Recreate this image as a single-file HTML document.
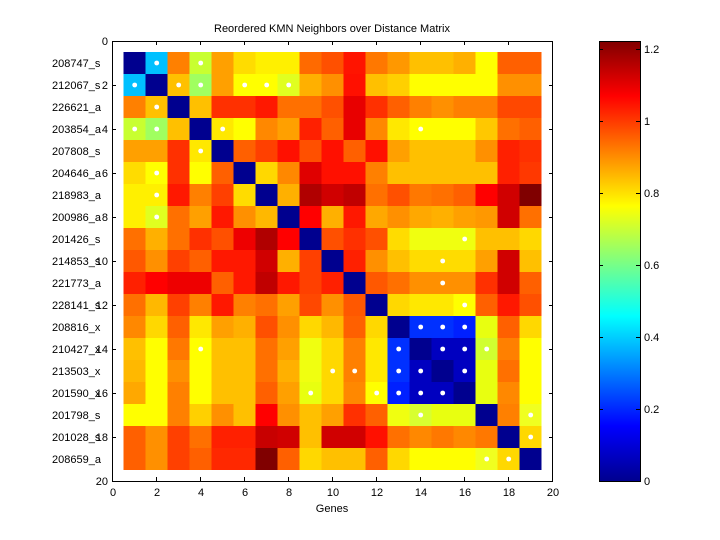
<!DOCTYPE html>
<html><head><meta charset="utf-8"><style>
html,body{margin:0;padding:0;background:#fff;}
svg{display:block;font-family:"Liberation Sans",sans-serif;font-size:11px;}
</style></head><body>
<svg width="720" height="540" viewBox="0 0 720 540">
<defs>
<linearGradient id="jet" x1="0" y1="1" x2="0" y2="0">
<stop offset="0" stop-color="#00008f"/>
<stop offset="0.125" stop-color="#0000ff"/>
<stop offset="0.375" stop-color="#00ffff"/>
<stop offset="0.625" stop-color="#ffff00"/>
<stop offset="0.875" stop-color="#ff0000"/>
<stop offset="1" stop-color="#800000"/>
</linearGradient>
</defs>
<rect width="720" height="540" fill="#fff"/>
<svg x="112.7" y="41" width="440" height="440" viewBox="0 0 20 20" shape-rendering="crispEdges">
<g transform="translate(0.5,0.5)">
<g transform="translate(0,0)"><rect x="0" width="1" height="1" fill="#00008f"/><rect x="1" width="1" height="1" fill="#00c0ff"/><rect x="2" width="1" height="1" fill="#ff8000"/><rect x="3" width="1" height="1" fill="#c8ff30"/><rect x="4" width="1" height="1" fill="#ffa000"/><rect x="5" width="1" height="1" fill="#ffdc00"/><rect x="6" width="1" height="1" fill="#fff000"/><rect x="7" width="1" height="1" fill="#fff000"/><rect x="8" width="1" height="1" fill="#ff6a00"/><rect x="9" width="1" height="1" fill="#ff5000"/><rect x="10" width="1" height="1" fill="#ff1400"/><rect x="11" width="1" height="1" fill="#ff7800"/><rect x="12" width="1" height="1" fill="#ff9800"/><rect x="13" width="1" height="1" fill="#ffc000"/><rect x="14" width="1" height="1" fill="#ffc000"/><rect x="15" width="1" height="1" fill="#ffb000"/><rect x="16" width="1" height="1" fill="#ffff00"/><rect x="17" width="1" height="1" fill="#ff6000"/><rect x="18" width="1" height="1" fill="#ff6000"/></g>
<g transform="translate(0,1)"><rect x="0" width="1" height="1" fill="#00c0ff"/><rect x="1" width="1" height="1" fill="#00008f"/><rect x="2" width="1" height="1" fill="#ffc000"/><rect x="3" width="1" height="1" fill="#a0ff60"/><rect x="4" width="1" height="1" fill="#ffa000"/><rect x="5" width="1" height="1" fill="#ffff00"/><rect x="6" width="1" height="1" fill="#ffff00"/><rect x="7" width="1" height="1" fill="#e0ff20"/><rect x="8" width="1" height="1" fill="#ffb000"/><rect x="9" width="1" height="1" fill="#ff9000"/><rect x="10" width="1" height="1" fill="#ff1000"/><rect x="11" width="1" height="1" fill="#ffc000"/><rect x="12" width="1" height="1" fill="#ffd000"/><rect x="13" width="1" height="1" fill="#ffff00"/><rect x="14" width="1" height="1" fill="#ffff00"/><rect x="15" width="1" height="1" fill="#ffff00"/><rect x="16" width="1" height="1" fill="#ffff00"/><rect x="17" width="1" height="1" fill="#ff9000"/><rect x="18" width="1" height="1" fill="#ff9000"/></g>
<g transform="translate(0,2)"><rect x="0" width="1" height="1" fill="#ff8000"/><rect x="1" width="1" height="1" fill="#ffc000"/><rect x="2" width="1" height="1" fill="#00008f"/><rect x="3" width="1" height="1" fill="#ffc000"/><rect x="4" width="1" height="1" fill="#ff3000"/><rect x="5" width="1" height="1" fill="#ff3000"/><rect x="6" width="1" height="1" fill="#ff1800"/><rect x="7" width="1" height="1" fill="#ff7000"/><rect x="8" width="1" height="1" fill="#ff7000"/><rect x="9" width="1" height="1" fill="#ff5000"/><rect x="10" width="1" height="1" fill="#e80000"/><rect x="11" width="1" height="1" fill="#ff3000"/><rect x="12" width="1" height="1" fill="#ff6000"/><rect x="13" width="1" height="1" fill="#ff8000"/><rect x="14" width="1" height="1" fill="#ff9000"/><rect x="15" width="1" height="1" fill="#ff8000"/><rect x="16" width="1" height="1" fill="#ff8000"/><rect x="17" width="1" height="1" fill="#ff4800"/><rect x="18" width="1" height="1" fill="#ff4800"/></g>
<g transform="translate(0,3)"><rect x="0" width="1" height="1" fill="#c8ff30"/><rect x="1" width="1" height="1" fill="#a0ff60"/><rect x="2" width="1" height="1" fill="#ffc000"/><rect x="3" width="1" height="1" fill="#00008f"/><rect x="4" width="1" height="1" fill="#ffe800"/><rect x="5" width="1" height="1" fill="#ffff00"/><rect x="6" width="1" height="1" fill="#ff8800"/><rect x="7" width="1" height="1" fill="#ffa000"/><rect x="8" width="1" height="1" fill="#ff2000"/><rect x="9" width="1" height="1" fill="#ff6000"/><rect x="10" width="1" height="1" fill="#e80000"/><rect x="11" width="1" height="1" fill="#ff8800"/><rect x="12" width="1" height="1" fill="#ffe800"/><rect x="13" width="1" height="1" fill="#ffff00"/><rect x="14" width="1" height="1" fill="#ffff00"/><rect x="15" width="1" height="1" fill="#ffff00"/><rect x="16" width="1" height="1" fill="#ffc800"/><rect x="17" width="1" height="1" fill="#ff7000"/><rect x="18" width="1" height="1" fill="#ff6000"/></g>
<g transform="translate(0,4)"><rect x="0" width="1" height="1" fill="#ffa000"/><rect x="1" width="1" height="1" fill="#ffa000"/><rect x="2" width="1" height="1" fill="#ff3000"/><rect x="3" width="1" height="1" fill="#ffe800"/><rect x="4" width="1" height="1" fill="#00008f"/><rect x="5" width="1" height="1" fill="#ff6000"/><rect x="6" width="1" height="1" fill="#ff4000"/><rect x="7" width="1" height="1" fill="#ff1000"/><rect x="8" width="1" height="1" fill="#ff5000"/><rect x="9" width="1" height="1" fill="#ff1000"/><rect x="10" width="1" height="1" fill="#ff6000"/><rect x="11" width="1" height="1" fill="#ff1000"/><rect x="12" width="1" height="1" fill="#ffa000"/><rect x="13" width="1" height="1" fill="#ffc000"/><rect x="14" width="1" height="1" fill="#ffc000"/><rect x="15" width="1" height="1" fill="#ffc000"/><rect x="16" width="1" height="1" fill="#ff9000"/><rect x="17" width="1" height="1" fill="#ff2000"/><rect x="18" width="1" height="1" fill="#ff3000"/></g>
<g transform="translate(0,5)"><rect x="0" width="1" height="1" fill="#ffdc00"/><rect x="1" width="1" height="1" fill="#ffff00"/><rect x="2" width="1" height="1" fill="#ff3000"/><rect x="3" width="1" height="1" fill="#ffff00"/><rect x="4" width="1" height="1" fill="#ff6000"/><rect x="5" width="1" height="1" fill="#00008f"/><rect x="6" width="1" height="1" fill="#ffd800"/><rect x="7" width="1" height="1" fill="#ff8800"/><rect x="8" width="1" height="1" fill="#e00000"/><rect x="9" width="1" height="1" fill="#ff1000"/><rect x="10" width="1" height="1" fill="#ff1000"/><rect x="11" width="1" height="1" fill="#ff8000"/><rect x="12" width="1" height="1" fill="#ffc000"/><rect x="13" width="1" height="1" fill="#ffc000"/><rect x="14" width="1" height="1" fill="#ffc000"/><rect x="15" width="1" height="1" fill="#ffc000"/><rect x="16" width="1" height="1" fill="#ffc000"/><rect x="17" width="1" height="1" fill="#ff2000"/><rect x="18" width="1" height="1" fill="#ff3800"/></g>
<g transform="translate(0,6)"><rect x="0" width="1" height="1" fill="#fff000"/><rect x="1" width="1" height="1" fill="#fff000"/><rect x="2" width="1" height="1" fill="#ff1800"/><rect x="3" width="1" height="1" fill="#ff8000"/><rect x="4" width="1" height="1" fill="#ff4000"/><rect x="5" width="1" height="1" fill="#ffdc00"/><rect x="6" width="1" height="1" fill="#00008f"/><rect x="7" width="1" height="1" fill="#ffb000"/><rect x="8" width="1" height="1" fill="#b00000"/><rect x="9" width="1" height="1" fill="#d00000"/><rect x="10" width="1" height="1" fill="#c00000"/><rect x="11" width="1" height="1" fill="#ff7000"/><rect x="12" width="1" height="1" fill="#ff5000"/><rect x="13" width="1" height="1" fill="#ff7800"/><rect x="14" width="1" height="1" fill="#ff7000"/><rect x="15" width="1" height="1" fill="#ff6000"/><rect x="16" width="1" height="1" fill="#ff0000"/><rect x="17" width="1" height="1" fill="#d00000"/><rect x="18" width="1" height="1" fill="#800000"/></g>
<g transform="translate(0,7)"><rect x="0" width="1" height="1" fill="#fff000"/><rect x="1" width="1" height="1" fill="#e0ff20"/><rect x="2" width="1" height="1" fill="#ff7000"/><rect x="3" width="1" height="1" fill="#ffa000"/><rect x="4" width="1" height="1" fill="#ff1800"/><rect x="5" width="1" height="1" fill="#ff9000"/><rect x="6" width="1" height="1" fill="#ffb800"/><rect x="7" width="1" height="1" fill="#00008f"/><rect x="8" width="1" height="1" fill="#ff0000"/><rect x="9" width="1" height="1" fill="#ffb000"/><rect x="10" width="1" height="1" fill="#ff1800"/><rect x="11" width="1" height="1" fill="#ffa800"/><rect x="12" width="1" height="1" fill="#ff9000"/><rect x="13" width="1" height="1" fill="#ffa800"/><rect x="14" width="1" height="1" fill="#ffb000"/><rect x="15" width="1" height="1" fill="#ffa000"/><rect x="16" width="1" height="1" fill="#ff9800"/><rect x="17" width="1" height="1" fill="#d00000"/><rect x="18" width="1" height="1" fill="#ff7000"/></g>
<g transform="translate(0,8)"><rect x="0" width="1" height="1" fill="#ff7000"/><rect x="1" width="1" height="1" fill="#ffb000"/><rect x="2" width="1" height="1" fill="#ff7000"/><rect x="3" width="1" height="1" fill="#ff3000"/><rect x="4" width="1" height="1" fill="#ff5000"/><rect x="5" width="1" height="1" fill="#ee0000"/><rect x="6" width="1" height="1" fill="#b00000"/><rect x="7" width="1" height="1" fill="#ff0000"/><rect x="8" width="1" height="1" fill="#00008f"/><rect x="9" width="1" height="1" fill="#ff5000"/><rect x="10" width="1" height="1" fill="#ff3000"/><rect x="11" width="1" height="1" fill="#ff5000"/><rect x="12" width="1" height="1" fill="#ffdc00"/><rect x="13" width="1" height="1" fill="#f0ff10"/><rect x="14" width="1" height="1" fill="#f0ff10"/><rect x="15" width="1" height="1" fill="#f0ff10"/><rect x="16" width="1" height="1" fill="#ffc000"/><rect x="17" width="1" height="1" fill="#ffc000"/><rect x="18" width="1" height="1" fill="#ffd800"/></g>
<g transform="translate(0,9)"><rect x="0" width="1" height="1" fill="#ff5800"/><rect x="1" width="1" height="1" fill="#ff9000"/><rect x="2" width="1" height="1" fill="#ff4000"/><rect x="3" width="1" height="1" fill="#ff6000"/><rect x="4" width="1" height="1" fill="#ff1800"/><rect x="5" width="1" height="1" fill="#ff1800"/><rect x="6" width="1" height="1" fill="#d00000"/><rect x="7" width="1" height="1" fill="#ffb000"/><rect x="8" width="1" height="1" fill="#ff4000"/><rect x="9" width="1" height="1" fill="#00008f"/><rect x="10" width="1" height="1" fill="#ff2000"/><rect x="11" width="1" height="1" fill="#ff9000"/><rect x="12" width="1" height="1" fill="#ffc000"/><rect x="13" width="1" height="1" fill="#ffdc00"/><rect x="14" width="1" height="1" fill="#ffdc00"/><rect x="15" width="1" height="1" fill="#ffdc00"/><rect x="16" width="1" height="1" fill="#ffa000"/><rect x="17" width="1" height="1" fill="#d00000"/><rect x="18" width="1" height="1" fill="#ffc000"/></g>
<g transform="translate(0,10)"><rect x="0" width="1" height="1" fill="#ff2000"/><rect x="1" width="1" height="1" fill="#ff0000"/><rect x="2" width="1" height="1" fill="#ee0000"/><rect x="3" width="1" height="1" fill="#ee0000"/><rect x="4" width="1" height="1" fill="#ff6000"/><rect x="5" width="1" height="1" fill="#ff1800"/><rect x="6" width="1" height="1" fill="#c00000"/><rect x="7" width="1" height="1" fill="#ff1800"/><rect x="8" width="1" height="1" fill="#ff4000"/><rect x="9" width="1" height="1" fill="#ff2000"/><rect x="10" width="1" height="1" fill="#00008f"/><rect x="11" width="1" height="1" fill="#ff5800"/><rect x="12" width="1" height="1" fill="#ff7000"/><rect x="13" width="1" height="1" fill="#ff9000"/><rect x="14" width="1" height="1" fill="#ff9000"/><rect x="15" width="1" height="1" fill="#ff9000"/><rect x="16" width="1" height="1" fill="#ff3000"/><rect x="17" width="1" height="1" fill="#d00000"/><rect x="18" width="1" height="1" fill="#ff6000"/></g>
<g transform="translate(0,11)"><rect x="0" width="1" height="1" fill="#ff7000"/><rect x="1" width="1" height="1" fill="#ffb800"/><rect x="2" width="1" height="1" fill="#ff4000"/><rect x="3" width="1" height="1" fill="#ff8000"/><rect x="4" width="1" height="1" fill="#ff1800"/><rect x="5" width="1" height="1" fill="#ff8000"/><rect x="6" width="1" height="1" fill="#ff7000"/><rect x="7" width="1" height="1" fill="#ffa000"/><rect x="8" width="1" height="1" fill="#ff4800"/><rect x="9" width="1" height="1" fill="#ff9000"/><rect x="10" width="1" height="1" fill="#ff5800"/><rect x="11" width="1" height="1" fill="#00008f"/><rect x="12" width="1" height="1" fill="#ffd800"/><rect x="13" width="1" height="1" fill="#ffe800"/><rect x="14" width="1" height="1" fill="#ffe800"/><rect x="15" width="1" height="1" fill="#ffff00"/><rect x="16" width="1" height="1" fill="#ff6000"/><rect x="17" width="1" height="1" fill="#ff1800"/><rect x="18" width="1" height="1" fill="#ff5000"/></g>
<g transform="translate(0,12)"><rect x="0" width="1" height="1" fill="#ff8800"/><rect x="1" width="1" height="1" fill="#ffd800"/><rect x="2" width="1" height="1" fill="#ff6000"/><rect x="3" width="1" height="1" fill="#ffe800"/><rect x="4" width="1" height="1" fill="#ffa000"/><rect x="5" width="1" height="1" fill="#ffb000"/><rect x="6" width="1" height="1" fill="#ff5000"/><rect x="7" width="1" height="1" fill="#ff9000"/><rect x="8" width="1" height="1" fill="#ffd800"/><rect x="9" width="1" height="1" fill="#ffb800"/><rect x="10" width="1" height="1" fill="#ff6000"/><rect x="11" width="1" height="1" fill="#ffd800"/><rect x="12" width="1" height="1" fill="#00008f"/><rect x="13" width="1" height="1" fill="#0030ff"/><rect x="14" width="1" height="1" fill="#0030ff"/><rect x="15" width="1" height="1" fill="#0020ff"/><rect x="16" width="1" height="1" fill="#e8ff10"/><rect x="17" width="1" height="1" fill="#ff6000"/><rect x="18" width="1" height="1" fill="#ffd800"/></g>
<g transform="translate(0,13)"><rect x="0" width="1" height="1" fill="#ffc000"/><rect x="1" width="1" height="1" fill="#ffff00"/><rect x="2" width="1" height="1" fill="#ff7800"/><rect x="3" width="1" height="1" fill="#ffff00"/><rect x="4" width="1" height="1" fill="#ffc000"/><rect x="5" width="1" height="1" fill="#ffc000"/><rect x="6" width="1" height="1" fill="#ff7000"/><rect x="7" width="1" height="1" fill="#ffa000"/><rect x="8" width="1" height="1" fill="#f0ff10"/><rect x="9" width="1" height="1" fill="#ffd800"/><rect x="10" width="1" height="1" fill="#ff8000"/><rect x="11" width="1" height="1" fill="#ffe800"/><rect x="12" width="1" height="1" fill="#0030ff"/><rect x="13" width="1" height="1" fill="#00008f"/><rect x="14" width="1" height="1" fill="#0000c0"/><rect x="15" width="1" height="1" fill="#0000c0"/><rect x="16" width="1" height="1" fill="#d0ff30"/><rect x="17" width="1" height="1" fill="#ff8000"/><rect x="18" width="1" height="1" fill="#ffff00"/></g>
<g transform="translate(0,14)"><rect x="0" width="1" height="1" fill="#ffb800"/><rect x="1" width="1" height="1" fill="#ffff00"/><rect x="2" width="1" height="1" fill="#ff9000"/><rect x="3" width="1" height="1" fill="#ffff00"/><rect x="4" width="1" height="1" fill="#ffc000"/><rect x="5" width="1" height="1" fill="#ffc000"/><rect x="6" width="1" height="1" fill="#ff7000"/><rect x="7" width="1" height="1" fill="#ffb000"/><rect x="8" width="1" height="1" fill="#f0ff10"/><rect x="9" width="1" height="1" fill="#ffd800"/><rect x="10" width="1" height="1" fill="#ff8000"/><rect x="11" width="1" height="1" fill="#ffe800"/><rect x="12" width="1" height="1" fill="#0030ff"/><rect x="13" width="1" height="1" fill="#0000c0"/><rect x="14" width="1" height="1" fill="#00008f"/><rect x="15" width="1" height="1" fill="#0000c0"/><rect x="16" width="1" height="1" fill="#e8ff10"/><rect x="17" width="1" height="1" fill="#ff7000"/><rect x="18" width="1" height="1" fill="#ffff00"/></g>
<g transform="translate(0,15)"><rect x="0" width="1" height="1" fill="#ffa800"/><rect x="1" width="1" height="1" fill="#ffff00"/><rect x="2" width="1" height="1" fill="#ff8000"/><rect x="3" width="1" height="1" fill="#ffff00"/><rect x="4" width="1" height="1" fill="#ffc000"/><rect x="5" width="1" height="1" fill="#ffc000"/><rect x="6" width="1" height="1" fill="#ff6000"/><rect x="7" width="1" height="1" fill="#ffa000"/><rect x="8" width="1" height="1" fill="#e8ff10"/><rect x="9" width="1" height="1" fill="#ffd800"/><rect x="10" width="1" height="1" fill="#ff8800"/><rect x="11" width="1" height="1" fill="#ffff00"/><rect x="12" width="1" height="1" fill="#0020ff"/><rect x="13" width="1" height="1" fill="#0000c0"/><rect x="14" width="1" height="1" fill="#0000c0"/><rect x="15" width="1" height="1" fill="#00008f"/><rect x="16" width="1" height="1" fill="#e8ff10"/><rect x="17" width="1" height="1" fill="#ff8800"/><rect x="18" width="1" height="1" fill="#ffff00"/></g>
<g transform="translate(0,16)"><rect x="0" width="1" height="1" fill="#ffff00"/><rect x="1" width="1" height="1" fill="#ffff00"/><rect x="2" width="1" height="1" fill="#ff8000"/><rect x="3" width="1" height="1" fill="#ffd000"/><rect x="4" width="1" height="1" fill="#ff9000"/><rect x="5" width="1" height="1" fill="#ffc000"/><rect x="6" width="1" height="1" fill="#ff0000"/><rect x="7" width="1" height="1" fill="#ff9000"/><rect x="8" width="1" height="1" fill="#ffc000"/><rect x="9" width="1" height="1" fill="#ffa000"/><rect x="10" width="1" height="1" fill="#ff3000"/><rect x="11" width="1" height="1" fill="#ff6000"/><rect x="12" width="1" height="1" fill="#f0ff10"/><rect x="13" width="1" height="1" fill="#d8ff30"/><rect x="14" width="1" height="1" fill="#e8ff10"/><rect x="15" width="1" height="1" fill="#e8ff10"/><rect x="16" width="1" height="1" fill="#00008f"/><rect x="17" width="1" height="1" fill="#ff8000"/><rect x="18" width="1" height="1" fill="#f0ff20"/></g>
<g transform="translate(0,17)"><rect x="0" width="1" height="1" fill="#ff6000"/><rect x="1" width="1" height="1" fill="#ff9000"/><rect x="2" width="1" height="1" fill="#ff4000"/><rect x="3" width="1" height="1" fill="#ff7000"/><rect x="4" width="1" height="1" fill="#ff2000"/><rect x="5" width="1" height="1" fill="#ff2000"/><rect x="6" width="1" height="1" fill="#c80000"/><rect x="7" width="1" height="1" fill="#d00000"/><rect x="8" width="1" height="1" fill="#ffc000"/><rect x="9" width="1" height="1" fill="#d00000"/><rect x="10" width="1" height="1" fill="#d00000"/><rect x="11" width="1" height="1" fill="#ff1000"/><rect x="12" width="1" height="1" fill="#ff7000"/><rect x="13" width="1" height="1" fill="#ff8800"/><rect x="14" width="1" height="1" fill="#ff7800"/><rect x="15" width="1" height="1" fill="#ff8800"/><rect x="16" width="1" height="1" fill="#ff7800"/><rect x="17" width="1" height="1" fill="#00008f"/><rect x="18" width="1" height="1" fill="#ffd800"/></g>
<g transform="translate(0,18)"><rect x="0" width="1" height="1" fill="#ff6000"/><rect x="1" width="1" height="1" fill="#ff9000"/><rect x="2" width="1" height="1" fill="#ff4000"/><rect x="3" width="1" height="1" fill="#ff6000"/><rect x="4" width="1" height="1" fill="#ff2800"/><rect x="5" width="1" height="1" fill="#ff2800"/><rect x="6" width="1" height="1" fill="#800000"/><rect x="7" width="1" height="1" fill="#ff6000"/><rect x="8" width="1" height="1" fill="#ffd800"/><rect x="9" width="1" height="1" fill="#ffc000"/><rect x="10" width="1" height="1" fill="#ffc000"/><rect x="11" width="1" height="1" fill="#ff6000"/><rect x="12" width="1" height="1" fill="#ffd800"/><rect x="13" width="1" height="1" fill="#ffff00"/><rect x="14" width="1" height="1" fill="#ffff00"/><rect x="15" width="1" height="1" fill="#ffff00"/><rect x="16" width="1" height="1" fill="#f0ff20"/><rect x="17" width="1" height="1" fill="#ffd800"/><rect x="18" width="1" height="1" fill="#00008f"/></g>
</g>
<g fill="#fff" shape-rendering="auto">
<circle cx="2" cy="1" r="0.11"/><circle cx="4" cy="1" r="0.11"/>
<circle cx="1" cy="2" r="0.11"/><circle cx="3" cy="2" r="0.11"/><circle cx="4" cy="2" r="0.11"/><circle cx="6" cy="2" r="0.11"/><circle cx="7" cy="2" r="0.11"/><circle cx="8" cy="2" r="0.11"/>
<circle cx="2" cy="3" r="0.11"/>
<circle cx="1" cy="4" r="0.11"/><circle cx="2" cy="4" r="0.11"/><circle cx="5" cy="4" r="0.11"/><circle cx="14" cy="4" r="0.11"/>
<circle cx="4" cy="5" r="0.11"/><circle cx="2" cy="6" r="0.11"/><circle cx="2" cy="7" r="0.11"/><circle cx="2" cy="8" r="0.11"/>
<circle cx="16" cy="9" r="0.11"/><circle cx="15" cy="10" r="0.11"/><circle cx="15" cy="11" r="0.11"/><circle cx="16" cy="12" r="0.11"/>
<circle cx="14" cy="13" r="0.11"/><circle cx="15" cy="13" r="0.11"/><circle cx="16" cy="13" r="0.11"/>
<circle cx="4" cy="14" r="0.11"/><circle cx="13" cy="14" r="0.11"/><circle cx="15" cy="14" r="0.11"/><circle cx="16" cy="14" r="0.11"/><circle cx="17" cy="14" r="0.11"/>
<circle cx="10" cy="15" r="0.11"/><circle cx="11" cy="15" r="0.11"/><circle cx="13" cy="15" r="0.11"/><circle cx="14" cy="15" r="0.11"/><circle cx="16" cy="15" r="0.11"/>
<circle cx="9" cy="16" r="0.11"/><circle cx="12" cy="16" r="0.11"/><circle cx="13" cy="16" r="0.11"/><circle cx="14" cy="16" r="0.11"/><circle cx="15" cy="16" r="0.11"/>
<circle cx="14" cy="17" r="0.11"/><circle cx="19" cy="17" r="0.11"/><circle cx="19" cy="18" r="0.11"/>
<circle cx="17" cy="19" r="0.11"/><circle cx="18" cy="19" r="0.11"/>
</g>
</svg>
<rect x="112.5" y="41.5" width="440" height="440" fill="none" stroke="#000" stroke-width="1"/>
<g stroke="#000" stroke-width="1">
<path d="M156.5 481v-4M200.5 481v-4M244.5 481v-4M288.5 481v-4M332.5 481v-4M376.5 481v-4M420.5 481v-4M464.5 481v-4M508.5 481v-4"/>
<path d="M156.5 41v4M200.5 41v4M244.5 41v4M288.5 41v4M332.5 41v4M376.5 41v4M420.5 41v4M464.5 41v4M508.5 41v4"/>
<path d="M112 85.5h4M112 129.5h4M112 173.5h4M112 217.5h4M112 261.5h4M112 305.5h4M112 349.5h4M112 393.5h4M112 437.5h4"/>
<path d="M553 85.5h-4M553 129.5h-4M553 173.5h-4M553 217.5h-4M553 261.5h-4M553 305.5h-4M553 349.5h-4M553 393.5h-4M553 437.5h-4"/>
</g>
<g text-anchor="middle" fill="#000">
<text x="113" y="496">0</text><text x="157" y="496">2</text><text x="201" y="496">4</text><text x="245" y="496">6</text><text x="289" y="496">8</text><text x="333" y="496">10</text><text x="377" y="496">12</text><text x="421" y="496">14</text><text x="465" y="496">16</text><text x="509" y="496">18</text><text x="553" y="496">20</text>
<text x="332" y="512">Genes</text>
<text x="332" y="32">Reordered KMN Neighbors over Distance Matrix</text>
</g>
<g text-anchor="end" fill="#000">
<text x="108" y="45">0</text><text x="108" y="89">2</text><text x="108" y="133">4</text><text x="108" y="177">6</text><text x="108" y="221">8</text><text x="108" y="265">10</text><text x="108" y="309">12</text><text x="108" y="353">14</text><text x="108" y="397">16</text><text x="108" y="441">18</text><text x="108" y="485">20</text>
</g>
<g fill="#000">
<text x="52" y="67">208747_s</text><text x="52" y="89">212067_s</text><text x="52" y="111">226621_a</text><text x="52" y="133">203854_a</text><text x="52" y="155">207808_s</text><text x="52" y="177">204646_a</text><text x="52" y="199">218983_a</text><text x="52" y="221">200986_a</text><text x="52" y="243">201426_s</text><text x="52" y="265">214853_s</text><text x="52" y="287">221773_a</text><text x="52" y="309">228141_s</text><text x="52" y="331">208816_x</text><text x="52" y="353">210427_x</text><text x="52" y="375">213503_x</text><text x="52" y="397">201590_x</text><text x="52" y="419">201798_s</text><text x="52" y="441">201028_s</text><text x="52" y="463">208659_a</text>
</g>
<rect x="599" y="41" width="41" height="440" fill="url(#jet)"/>
<rect x="599.5" y="41.5" width="41" height="440" fill="none" stroke="#000"/>
<g stroke="#000">
<path d="M599 409.5h4M599 337.5h4M599 265.5h4M599 193.5h4M599 121.5h4M599 49.5h4"/>
<path d="M640 409.5h-4M640 337.5h-4M640 265.5h-4M640 193.5h-4M640 121.5h-4M640 49.5h-4"/>
</g>
<g fill="#000">
<text x="644" y="485">0</text><text x="644" y="413">0.2</text><text x="644" y="341">0.4</text><text x="644" y="269">0.6</text><text x="644" y="197">0.8</text><text x="644" y="125">1</text><text x="644" y="53">1.2</text>
</g>
</svg>
</body></html>
